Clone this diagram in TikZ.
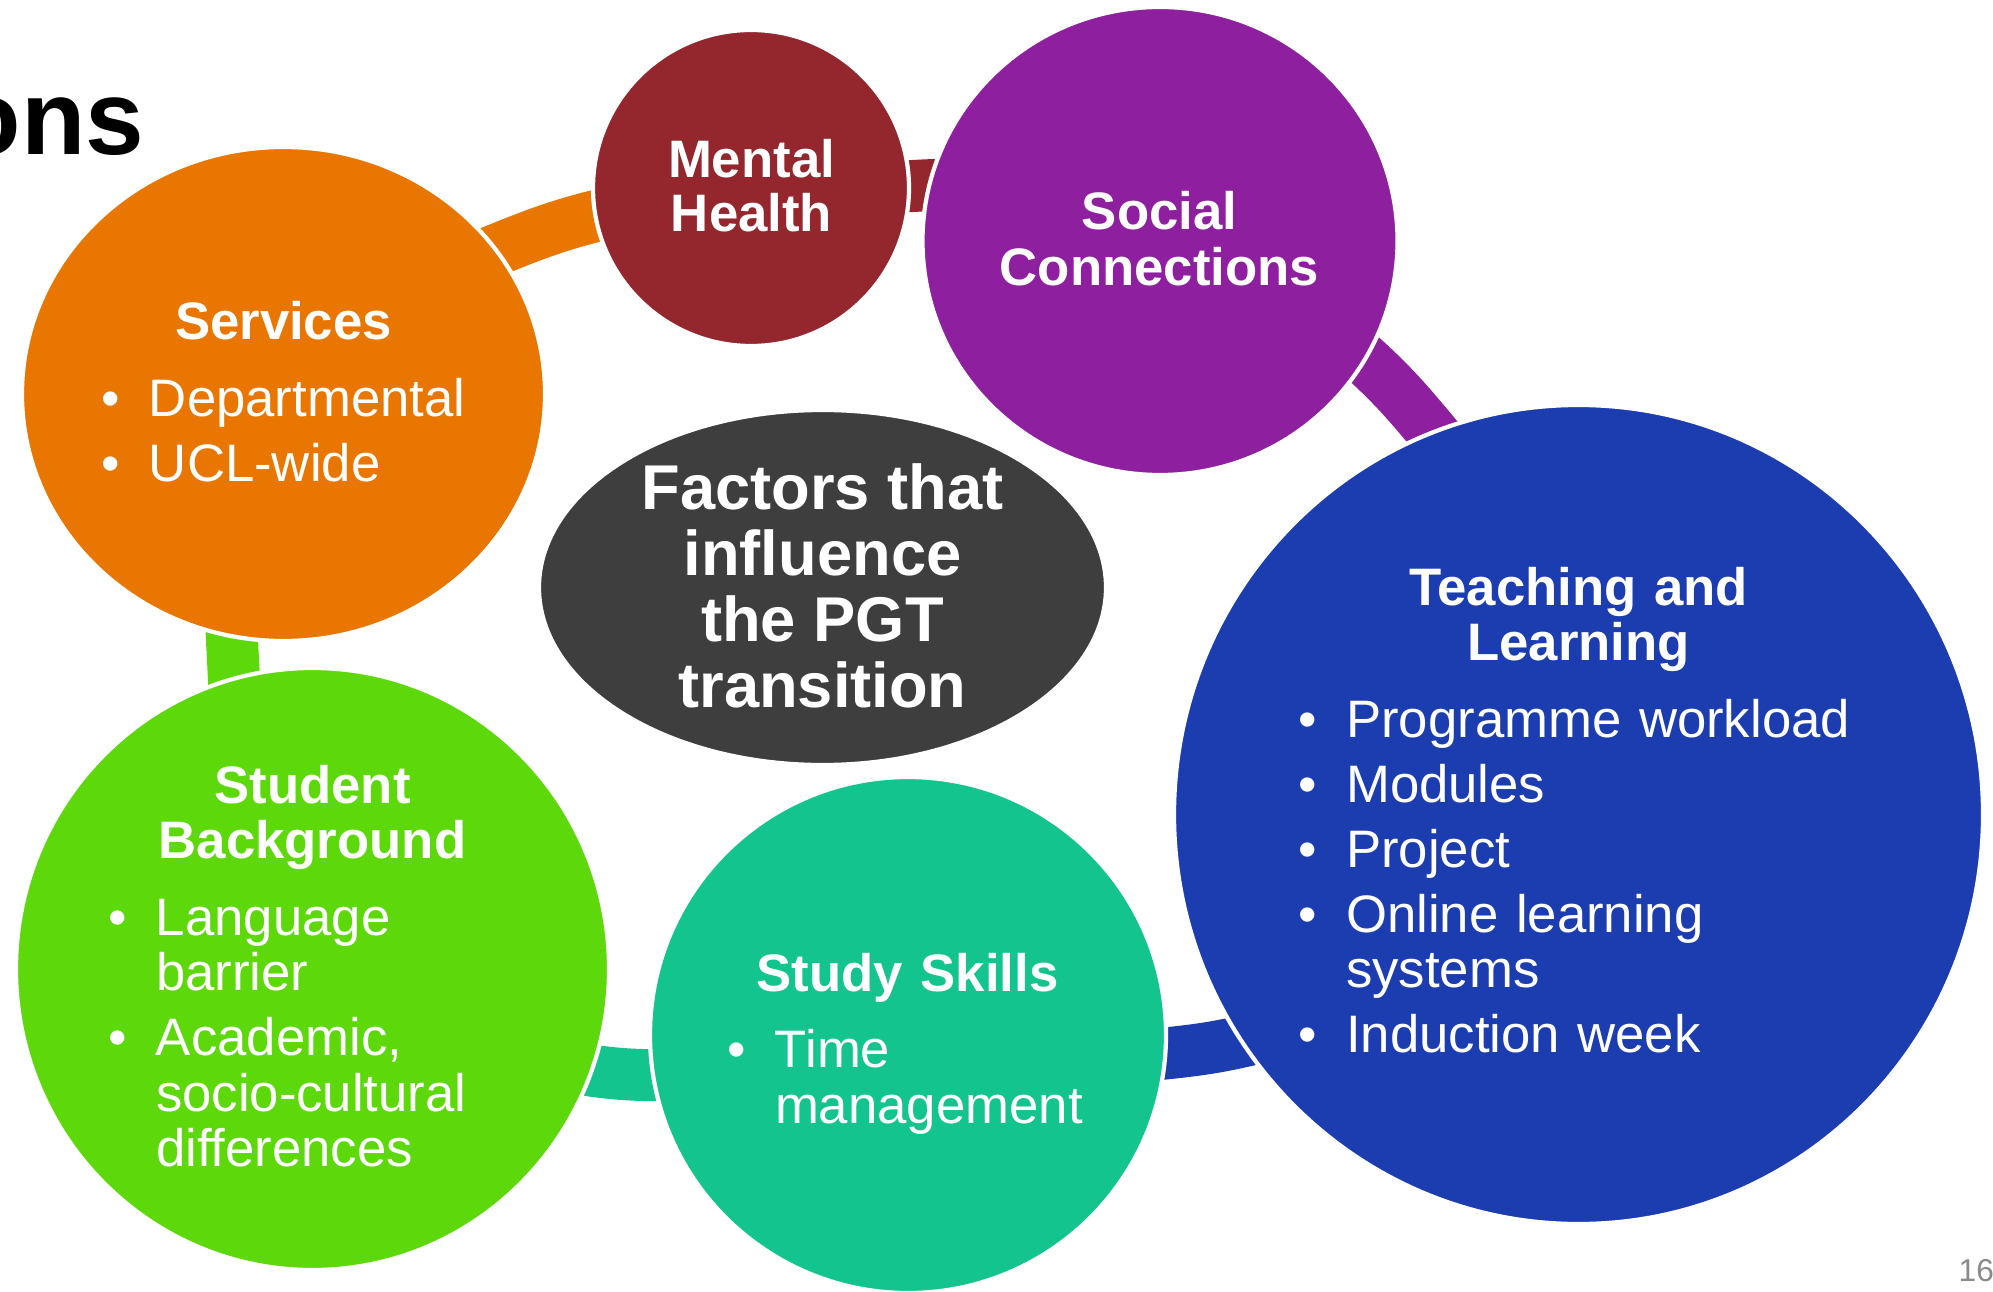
\documentclass[tikz,border=0pt]{standalone}
\usepackage{fontspec}
\setmainfont{Liberation Sans}
\usetikzlibrary{shapes.geometric,backgrounds}

\definecolor{svcorange}{HTML}{E87600}
\definecolor{mhred}{HTML}{94262E}
\definecolor{socpurple}{HTML}{8E20A0}
\definecolor{tlblue}{HTML}{1C3DB0}
\definecolor{ssteal}{HTML}{14C48E}
\definecolor{sbgreen}{HTML}{5DD80B}
\definecolor{coregray}{HTML}{3E3E3E}
\definecolor{pagegray}{HTML}{8A8A8A}

% bullet paragraph with hanging indent
\newcommand{\bul}[1]{\par\vspace{0.095cm}\hangindent=0.48cm\hangafter=1\noindent\makebox[0.48cm][l]{\textbullet}#1}
% centred bold heading inside a bubble
\newcommand{\bubhead}[1]{{\centering\bfseries #1\par}\vspace{0.115cm}}

\begin{document}
\begin{tikzpicture}[
  bubble/.style={ellipse, fill=#1, draw=white, line width=1.2pt, inner sep=0pt},
  band/.style={draw=#1, line width=0.52cm, shorten <=-0.45cm, shorten >=-0.45cm},
  bubtitle/.style={text=white, inner sep=0pt, align=center, anchor=base},
  bubtext/.style={text=white, inner sep=0pt, anchor=base, text width=#1,
    font=\fontsize{15pt}{0.555cm}\selectfont},
]
\useasboundingbox (0,0) rectangle (19.93,-12.91);

% heading, cut at the left
\node[anchor=base east, inner sep=0pt, font=\fontsize{30pt}{36pt}\selectfont\bfseries] (heading) at (1.45,-1.55) {ons};

% the bubbles
\node[bubble=svcorange, minimum width=5.23cm, minimum height=4.94cm] (services) at (2.835,-3.94) {};
\node[bubble=mhred, minimum width=3.16cm, minimum height=3.16cm] (mental) at (7.51,-1.88) {};
\node[bubble=socpurple, minimum width=4.75cm, minimum height=4.68cm] (social) at (11.60,-2.41) {};
\node[bubble=tlblue, minimum width=8.09cm, minimum height=8.19cm] (teaching) at (15.785,-8.145) {};
\node[bubble=ssteal, minimum width=5.16cm, minimum height=5.16cm] (study) at (9.08,-10.35) {};
\node[bubble=sbgreen, minimum width=5.93cm, minimum height=6.02cm] (student) at (3.125,-9.69) {};
\node[bubble=coregray, minimum width=5.67cm, minimum height=3.55cm] (factors) at (8.225,-5.875) {};

% ring pieces between neighbours
\begin{scope}[on background layer]
\draw[band=svcorange] (services.34) to[out=22,in=192] (mental.190);
\draw[band=mhred] (mental.0) to[out=-2,in=176] (social.166);
\draw[band=socpurple] (social.-30) to[out=-40,in=130] (teaching.111);
\draw[band=tlblue] (teaching.214) to[out=195,in=6] (study.-4);
\draw[band=ssteal] (study.189) to[out=181,in=-9] (student.-20);
\draw[band=sbgreen] (student.105) to[out=92,in=-88] (services.258);
\end{scope}

% texts (base = last line here)
\node[bubtitle, font=\fontsize{18pt}{0.66cm}\selectfont\bfseries] (factors-text) at (8.225,-7.07)
  {Factors that\\influence\\the PGT\\transition};
\node[bubtitle, font=\fontsize{15pt}{0.545cm}\selectfont\bfseries] (mental-text) at (7.515,-2.32) {Mental\\Health};
\node[bubtitle, font=\fontsize{15pt}{0.56cm}\selectfont\bfseries] (social-text) at (11.595,-2.86) {Social\\Connections};

\node[bubtext=3.65cm] (services-text) at (2.835,-3.40) {%
  \bubhead{Services}
  \bul{Departmental}
  \bul{UCL-wide}\par};

\node[bubtext=5.61cm] (teaching-text) at (15.786,-6.05) {%
  \bubhead{Teaching and\\Learning}
  \bul{Programme workload}
  \bul{Modules}
  \bul{Project}
  \bul{Online learning\newline systems}
  \bul{Induction week}\par};

\node[bubtext=4.09cm] (student-text) at (3.125,-8.03) {%
  \bubhead{Student\\Background}
  \bul{Language\newline barrier}
  \bul{Academic,\newline socio-cultural\newline differences}\par};

\node[bubtext=3.61cm] (study-text) at (9.075,-9.91) {%
  \bubhead{Study Skills}
  \bul{Time\newline management}\par};

% page number
\node[anchor=base west, inner sep=0pt, text=pagegray, font=\fontsize{9pt}{11pt}\selectfont] (pagenum) at (19.58,-12.81) {16};
\end{tikzpicture}
\end{document}
